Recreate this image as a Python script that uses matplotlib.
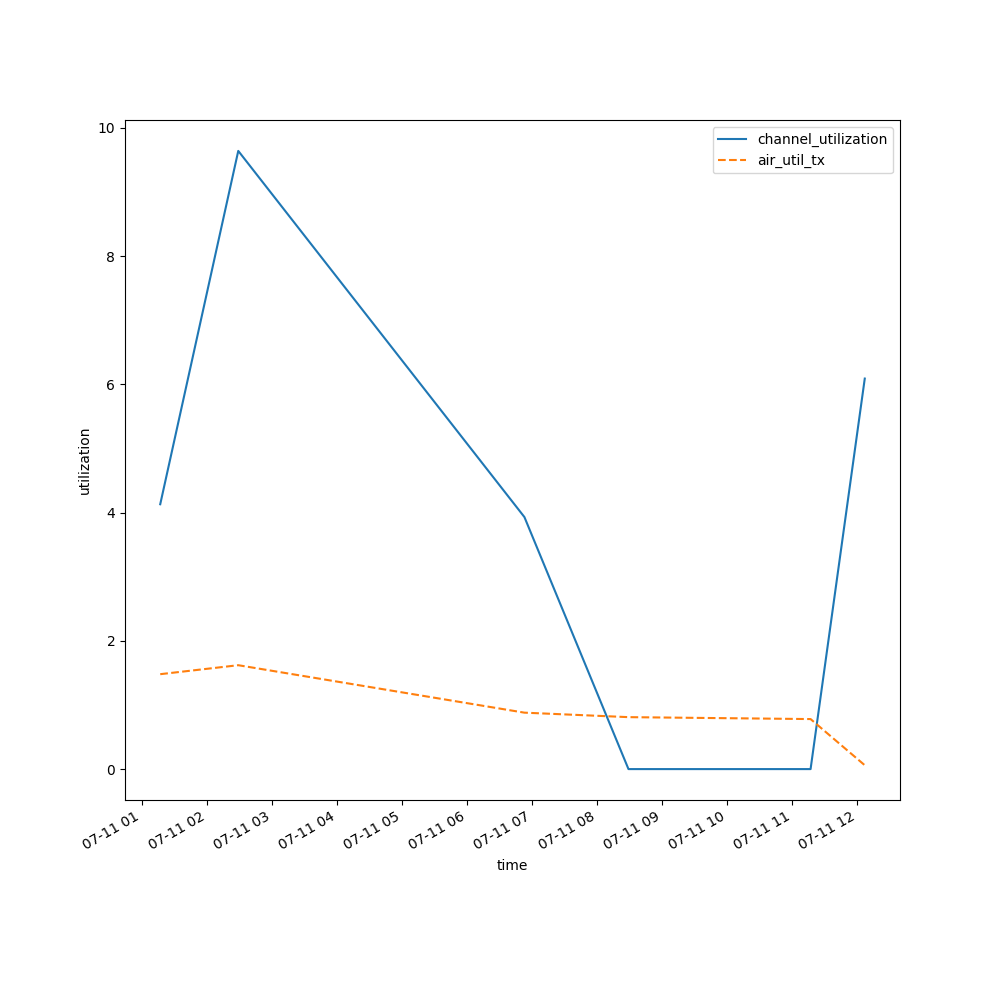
import pandas as pd
import matplotlib
matplotlib.use("Agg")
import matplotlib.pyplot as plt

# readings taken during the day
times = pd.to_datetime([
    "2024-07-11 01:17", "2024-07-11 02:29", "2024-07-11 06:53",
    "2024-07-11 08:29", "2024-07-11 11:17", "2024-07-11 12:07",
])
channel_utilization = [4.13, 9.64, 3.93, 0.0, 0.0, 6.09]
air_util_tx = [1.48, 1.62, 0.88, 0.81, 0.78, 0.06]

fig, ax = plt.subplots(figsize=(10, 10), dpi=100)
ax.plot(times, channel_utilization, label="channel_utilization")
ax.plot(times, air_util_tx, linestyle="--", label="air_util_tx")
ax.set_xlabel("time")
ax.set_ylabel("utilization")
ax.legend()
fig.autofmt_xdate()
fig.savefig("out.png")
